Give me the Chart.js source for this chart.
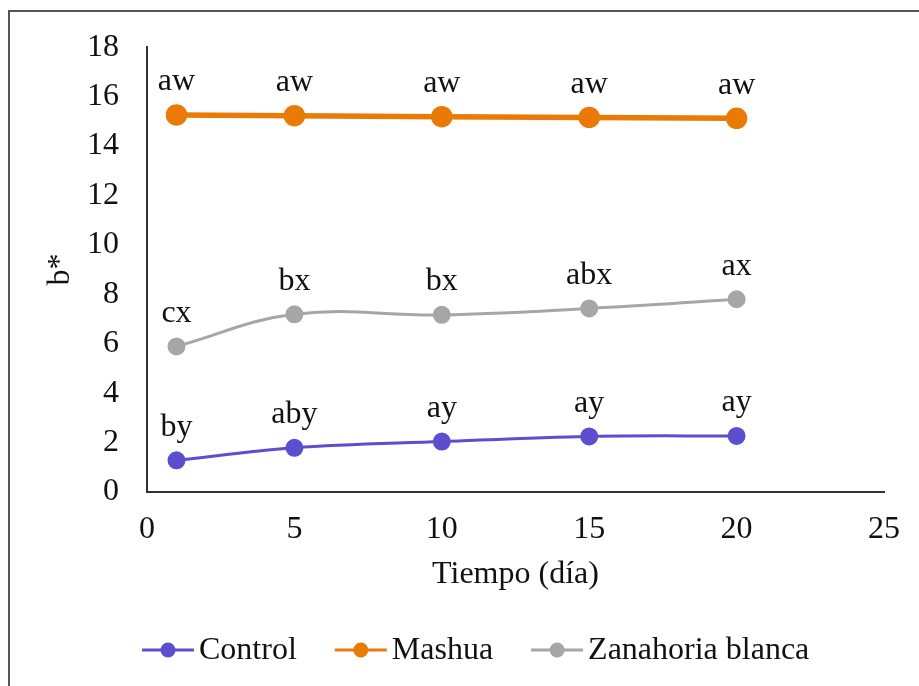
<!DOCTYPE html>
<html>
<head>
<meta charset="utf-8">
<script src="https://cdn.jsdelivr.net/npm/chart.js@4.4.1/dist/chart.umd.min.js"></script>
<style>
  html, body { margin:0; padding:0; background:#fff; overflow:hidden; }
  #wrap { position:relative; width:919px; height:686px; }
  #frame { position:absolute; left:8px; top:10px; width:1000px; height:1000px; border:2px solid #555; box-sizing:border-box; }
  #chart { position:absolute; left:0; top:0; }
</style>
</head>
<body>
<div id="wrap">
  <div id="frame"></div>
  <canvas id="chart" width="919" height="686"></canvas>
</div>
<script>
'use strict';

// ── Data ──────────────────────────────────────────────────────────────────────
const days = [1, 5, 10, 15, 20];
const seriesNames = ['Control', 'Mashua', 'Zanahoria blanca'];
const controlVals = [1.28, 1.79, 2.04, 2.25, 2.27];
const mashuaVals = [15.26, 15.23, 15.19, 15.16, 15.12];
const zanahoriaVals = [5.89, 7.19, 7.17, 7.43, 7.80];
const controlLetters = ['by', 'aby', 'ay', 'ay', 'ay'];
const mashuaLetters = ['aw', 'aw', 'aw', 'aw', 'aw'];
const zanahoriaLetters = ['cx', 'bx', 'bx', 'abx', 'ax'];
const xTicks = [0, 5, 10, 15, 20, 25];
const yTicks = [0, 2, 4, 6, 8, 10, 12, 14, 16, 18];

const FONT = '"Liberation Serif", "Times New Roman", serif';
const FS = 32;
const pts = vals => days.map((d, i) => ({ x: d, y: vals[i] }));

// ── Point letters above each marker ──────────────────────────────────────────
const letterPlugin = {
  id: 'letters',
  afterDatasetsDraw(chart) {
    const { ctx } = chart;
    ctx.save();
    ctx.font = FS + 'px ' + FONT;
    ctx.fillStyle = '#111';
    ctx.textAlign = 'center';
    ctx.textBaseline = 'middle';
    chart.data.datasets.forEach((ds, di) => {
      chart.getDatasetMeta(di).data.forEach((el, i) => {
        ctx.fillText(ds.letters[i], el.x, el.y - 33);
      });
    });
    ctx.restore();
  }
};

// ── Legend with line + marker ────────────────────────────────────────────────
const lineLegend = {
  id: 'lineLegend',
  afterDraw(chart) {
    const { ctx } = chart;
    ctx.save();
    ctx.font = FS + 'px ' + FONT;
    ctx.textBaseline = 'middle';
    let x = 142;
    const y = 650;
    chart.data.datasets.forEach(ds => {
      ctx.strokeStyle = ds.borderColor;
      ctx.lineWidth = 3;
      ctx.beginPath(); ctx.moveTo(x, y); ctx.lineTo(x + 52, y); ctx.stroke();
      ctx.fillStyle = ds.borderColor;
      ctx.beginPath(); ctx.arc(x + 26, y, 7.5, 0, Math.PI * 2); ctx.fill();
      ctx.fillStyle = '#111';
      ctx.textAlign = 'left';
      ctx.fillText(ds.label, x + 57, y + 1);
      x += 57 + ctx.measureText(ds.label).width + 38;
    });
    ctx.restore();
  }
};

new Chart(document.getElementById('chart'), {
  type: 'line',
  data: {
    datasets: [
      { label: seriesNames[0], data: pts(controlVals), letters: controlLetters,
        borderColor: '#5b4fcf', backgroundColor: '#5b4fcf', borderWidth: 3,
        pointRadius: 7.5, pointHoverRadius: 7.5, tension: 0.35 },
      { label: seriesNames[1], data: pts(mashuaVals), letters: mashuaLetters,
        borderColor: '#e97a05', backgroundColor: '#e97a05', borderWidth: 5.5,
        pointRadius: 8, pointHoverRadius: 8, tension: 0 },
      { label: seriesNames[2], data: pts(zanahoriaVals), letters: zanahoriaLetters,
        borderColor: '#a6a6a6', backgroundColor: '#a6a6a6', borderWidth: 3,
        pointRadius: 7.5, pointHoverRadius: 7.5, tension: 0.4 }
    ]
  },
  options: {
    responsive: false,
    devicePixelRatio: 1,
    animation: false,
    layout: { padding: { top: 43, right: 35, bottom: 84, left: 0 } },
    plugins: { legend: { display: false }, tooltip: { enabled: false } },
    scales: {
      x: {
        type: 'linear', min: 0, max: 25,
        afterBuildTicks: s => { s.ticks = xTicks.map(v => ({ value: v })); },
        afterFit: s => { s.height = 110; },
        grid: { display: false, drawTicks: false },
        border: { display: true, color: '#333', width: 2 },
        ticks: { padding: 18, color: '#111', font: { family: FONT, size: FS } },
        title: { display: true, text: 'Tiempo (día)', color: '#111', padding: { top: 0, bottom: 8 },
                 font: { family: FONT, size: FS } }
      },
      y: {
        min: 0, max: 18,
        afterBuildTicks: s => { s.ticks = yTicks.map(v => ({ value: v })); },
        afterFit: s => { s.width = 147; },
        grid: { display: false, drawTicks: false },
        border: { display: true, color: '#333', width: 2 },
        ticks: { padding: 28, color: '#111', font: { family: FONT, size: FS } },
        title: { display: true, text: 'b*', color: '#111', padding: { top: 41, bottom: 0 },
                 font: { family: FONT, size: FS } }
      }
    }
  },
  plugins: [letterPlugin, lineLegend]
});
</script>
</body>
</html>
